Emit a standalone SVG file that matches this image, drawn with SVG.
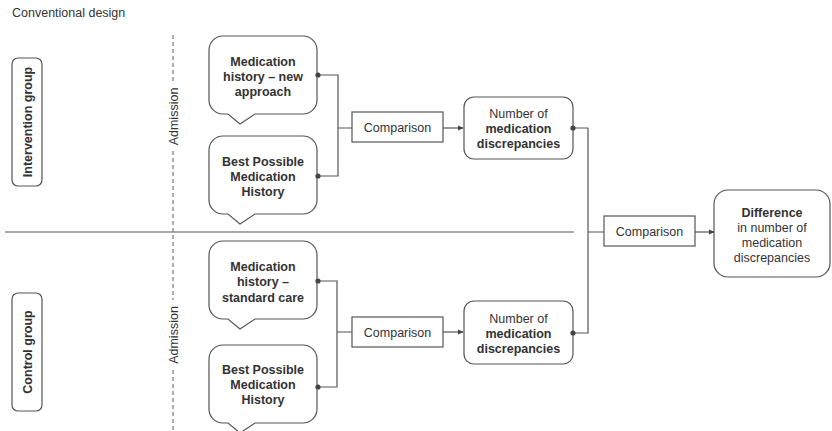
<svg xmlns="http://www.w3.org/2000/svg" width="832" height="431" viewBox="0 0 832 431">
<style>
text{font-family:"Liberation Sans",Arial,sans-serif;fill:#333;font-size:12.5px}
.b{font-weight:bold}
.c{text-anchor:middle}
.box{fill:#fff;stroke:#555;stroke-width:1.2}
.ln{fill:none;stroke:#555;stroke-width:1.2}
.dash{fill:none;stroke:#777;stroke-width:1.2;stroke-dasharray:4 3}
.dot{fill:#444}
</style>
<defs>
<marker id="arr" viewBox="0 0 8 8" refX="7" refY="4" markerWidth="6" markerHeight="6" markerUnits="userSpaceOnUse" orient="auto">
<path d="M0,0.5 L8,4 L0,7.5 Z" fill="#444"/>
</marker>
<path id="bub" d="M223,0 H303 A14,14 0 0 1 317,14 V64 A14,14 0 0 1 303,78 H255 L240,88 L228,78 H223 A14,14 0 0 1 209,64 V14 A14,14 0 0 1 223,0 Z"/>
</defs>
<text x="12" y="17">Conventional design</text>

<g id="divider">
<path class="ln" d="M5,232 H574"/>
<path class="dash" d="M173,35 V82 M173,151 V300 M173,370 V431"/>
<text class="c" transform="translate(177.5,116.5) rotate(-90)">Admission</text>
<text class="c" transform="translate(177.5,335) rotate(-90)">Admission</text>
</g>

<g id="intervention-group">
<rect class="box" x="12" y="58" width="30" height="128" rx="6"/>
<text class="b c" transform="translate(31.5,122) rotate(-90)">Intervention group</text>
</g>
<g id="control-group">
<rect class="box" x="12" y="293" width="30" height="118" rx="6"/>
<text class="b c" transform="translate(31.5,352) rotate(-90)">Control group</text>
</g>

<g id="connectors">
<path class="ln" d="M318,75 H338 V176 H318 M338,128 H352"/>
<path class="ln" d="M443,128 H463" marker-end="url(#arr)"/>
<path class="ln" d="M573,128 H588 V333 H573 M588,232 H604"/>
<path class="ln" d="M695,232 H714" marker-end="url(#arr)"/>
<path class="ln" d="M318,281 H337 V387 H318 M337,332 H352"/>
<path class="ln" d="M443,332 H463" marker-end="url(#arr)"/>
</g>

<g id="bubble1">
<use href="#bub" class="box" transform="translate(0,36)"/>
<text class="b c" x="263" y="65.5">Medication</text>
<text class="b c" x="263" y="80.5">history – new</text>
<text class="b c" x="263" y="96">approach</text>
<circle class="dot" cx="318" cy="75" r="2.6"/>
</g>
<g id="bubble2">
<use href="#bub" class="box" transform="translate(0,136)"/>
<text class="b c" x="263" y="165.5">Best Possible</text>
<text class="b c" x="263" y="180.5">Medication</text>
<text class="b c" x="263" y="196">History</text>
<circle class="dot" cx="318" cy="176" r="2.6"/>
</g>
<g id="bubble3">
<use href="#bub" class="box" transform="translate(0,241)"/>
<text class="b c" x="263" y="270.5">Medication</text>
<text class="b c" x="263" y="285.5">history –</text>
<text class="b c" x="263" y="301.5">standard care</text>
<circle class="dot" cx="318" cy="281" r="2.6"/>
</g>
<g id="bubble4">
<use href="#bub" class="box" transform="translate(0,345)"/>
<text class="b c" x="263" y="373.5">Best Possible</text>
<text class="b c" x="263" y="388.5">Medication</text>
<text class="b c" x="263" y="403.5">History</text>
<circle class="dot" cx="318" cy="387" r="2.6"/>
</g>

<g id="comparison1">
<rect class="box" x="352" y="112" width="91" height="30"/>
<text class="c" x="397.5" y="131.5">Comparison</text>
</g>
<g id="comparison2">
<rect class="box" x="352" y="317" width="91" height="30"/>
<text class="c" x="397.5" y="336.5">Comparison</text>
</g>
<g id="comparison3">
<rect class="box" x="604" y="216" width="91" height="30"/>
<text class="c" x="649.5" y="235.5">Comparison</text>
</g>

<g id="number1">
<rect class="box" x="464" y="97" width="109" height="62" rx="10"/>
<text class="c" x="518.5" y="117.5">Number of</text>
<text class="b c" x="518.5" y="132.5">medication</text>
<text class="b c" x="518.5" y="147.5">discrepancies</text>
<circle class="dot" cx="573" cy="128" r="2.6"/>
</g>
<g id="number2">
<rect class="box" x="464" y="301" width="109" height="63" rx="10"/>
<text class="c" x="518.5" y="322.5">Number of</text>
<text class="b c" x="518.5" y="337.5">medication</text>
<text class="b c" x="518.5" y="352.5">discrepancies</text>
<circle class="dot" cx="573" cy="333" r="2.6"/>
</g>

<g id="difference">
<rect class="box" x="714" y="190" width="116" height="87" rx="14"/>
<text class="b c" x="772" y="216.5">Difference</text>
<text class="c" x="772" y="231.5">in number of</text>
<text class="c" x="772" y="246.5">medication</text>
<text class="c" x="772" y="261.5">discrepancies</text>
</g>
</svg>
